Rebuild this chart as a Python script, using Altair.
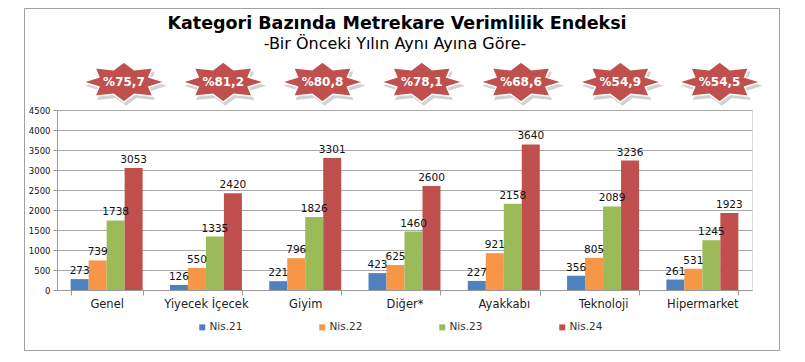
import math
import altair as alt
import pandas as pd

# ---- data ----
categories = ["Genel", "Yiyecek İçecek", "Giyim", "Diğer*", "Ayakkabı", "Teknoloji", "Hipermarket"]
series = ["Nis.21", "Nis.22", "Nis.23", "Nis.24"]
nis21 = [273, 126, 221, 423, 227, 356, 261]
nis22 = [739, 550, 796, 625, 921, 805, 531]
nis23 = [1738, 1335, 1826, 1460, 2158, 2089, 1245]
nis24 = [3053, 2420, 3301, 2600, 3640, 3236, 1923]
badges = ["%75,7", "%81,2", "%80,8", "%78,1", "%68,6", "%54,9", "%54,5"]
y_ticks = [0, 500, 1000, 1500, 2000, 2500, 3000, 3500, 4000, 4500]
title_text = "Kategori Bazında Metrekare Verimlilik Endeksi"
subtitle_text = "-Bir Önceki Yılın Aynı Ayına Göre-"

colors = ["#4F81BD", "#F79646", "#9BBB59", "#C0504D"]
FONT = "DejaVu Sans"

rows = []
for s, vals in zip(series, [nis21, nis22, nis23, nis24]):
    for c, v in zip(categories, vals):
        rows.append({"cat": c, "series": s, "value": v})
df = pd.DataFrame(rows)
badge_df = pd.DataFrame({"cat": categories, "badge": badges})


def star_path(dx=0.0, dy=0.0, ry=0.49, rin=0.66):
    pts = []
    for k in range(16):
        a = math.radians(k * 22.5)
        r = 1.0 if k % 2 == 0 else rin
        pts.append((r * math.cos(a) + dx, r * math.sin(a) * ry + dy))
    return "M" + " L".join(f"{x:.3f},{y:.3f}" for x, y in pts) + " Z"


x_enc = alt.X("cat:N", sort=categories, title=None,
              scale=alt.Scale(paddingInner=0.275, paddingOuter=0.1375),
              axis=alt.Axis(labelAngle=0, labelFontSize=11.5, labelColor="#222",
                            labelFont=FONT, domainColor="#999", tickColor="#999",
                            tickSize=5, tickBand="extent", labelPadding=3))
xoff = alt.XOffset("series:N", sort=series, scale=alt.Scale(paddingInner=0, paddingOuter=0))
y_enc = alt.Y("value:Q", title=None,
              scale=alt.Scale(domain=[0, 4500], nice=False),
              axis=alt.Axis(values=y_ticks, tickCount=20, format="d",
                            labelFontSize=8.5, labelColor="#111",
                            labelFont=FONT, domainColor="#999", tickColor="#999",
                            tickSize=4, gridColor="#a8a8a8", labelPadding=3))

bars = alt.Chart(df).mark_bar().encode(
    x=x_enc, xOffset=xoff, y=y_enc,
    color=alt.Color("series:N", sort=series,
                    scale=alt.Scale(domain=series, range=colors),
                    legend=alt.Legend(title=None, orient="none", legendX=140, legendY=212,
                                      direction="horizontal", columns=4,
                                      symbolType="square", symbolSize=36,
                                      symbolStrokeWidth=0, labelFontSize=10.5,
                                      labelColor="#333", labelFont=FONT,
                                      columnPadding=74, padding=0, labelOffset=2)),
)

labels = alt.Chart(df).mark_text(baseline="bottom", dy=-3, fontSize=10.5, font=FONT,
                                 color="#111").encode(
    x=alt.X("cat:N", sort=categories), xOffset=xoff,
    y=alt.Y("value:Q"), text="value:Q")

shadow = alt.Chart(badge_df).mark_point(
    shape=star_path(0.05, 0.09), size=6724, filled=True, fill="#bdbdbd",
    opacity=0.7, strokeWidth=0).encode(
    x=alt.X("cat:N", sort=categories, bandPosition=0.74), y=alt.value(-28))

badge = alt.Chart(badge_df).mark_point(
    shape=star_path(), size=6724, filled=True, fill="#C0504D", opacity=1,
    stroke="#ffffff", strokeWidth=1.5).encode(
    x=alt.X("cat:N", sort=categories, bandPosition=0.74), y=alt.value(-28))

badge_txt = alt.Chart(badge_df).mark_text(
    fontSize=12, fontWeight="bold", font=FONT, color="white", baseline="middle").encode(
    x=alt.X("cat:N", sort=categories, bandPosition=0.74), y=alt.value(-28), text="badge:N")

one = pd.DataFrame({"t": [title_text], "s": [subtitle_text]})
title_mark = alt.Chart(one).mark_text(fontSize=17.5, fontWeight="bold", font=FONT,
                                      color="#000", baseline="alphabetic").encode(
    x=alt.value(340), y=alt.value(-81), text="t:N")
subtitle_mark = alt.Chart(one).mark_text(fontSize=16, font=FONT, color="#000",
                                         baseline="alphabetic").encode(
    x=alt.value(338), y=alt.value(-61), text="s:N")

frame = alt.Chart(one).mark_rect(fillOpacity=0, stroke="#a0a0a0", strokeWidth=1).encode(
    x=alt.value(-32.5), x2=alt.value(722.5), y=alt.value(-101.5), y2=alt.value(240.5))

chart = alt.layer(frame, bars, labels, shadow, badge, badge_txt, title_mark, subtitle_mark).properties(
    width=695, height=180,
    autosize=alt.AutoSizeParams(type="none"),
    padding={"left": 49, "top": 102, "right": 38, "bottom": 62},
).configure_view(strokeWidth=0).configure(background="white")

chart.save("out.html", embed_options={"renderer": "svg", "actions": False})
